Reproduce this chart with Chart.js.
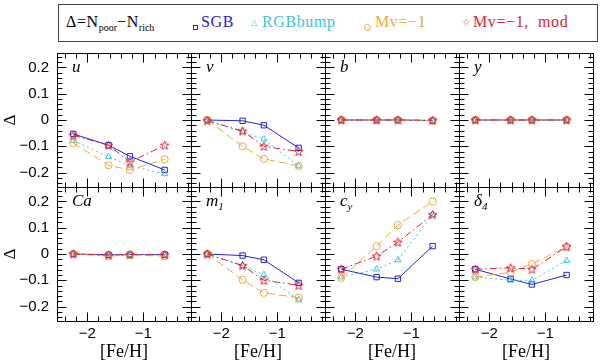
<!DOCTYPE html>
<html><head><meta charset="utf-8">
<script src="https://cdn.jsdelivr.net/npm/chart.js@4/dist/chart.umd.min.js"></script>
<style>
html,body{margin:0;padding:0;background:#fff;}
#wrap{position:relative;width:600px;height:364px;overflow:hidden;background:#fff;}
canvas.pc{position:absolute;left:0;top:0;}
.lab{position:absolute;font-family:"Liberation Serif",serif;font-style:italic;font-size:17px;line-height:1;color:#000;white-space:nowrap;}
.lab sub{font-size:11px;vertical-align:-4px;line-height:0;}
#legend{position:absolute;left:58px;top:4px;width:540px;height:38px;border:1px solid #444;box-sizing:border-box;font-family:"Liberation Serif",serif;font-size:16px;}
#legend .it{position:absolute;top:9px;line-height:1;white-space:nowrap;letter-spacing:0.6px;}
#legend sub{font-size:10px;vertical-align:-4px;line-height:0;letter-spacing:0;}
.mk{position:absolute;box-sizing:border-box;}
</style></head>
<body>
<div id="wrap">
  <div id="legend">
    <div class="it" style="left:7px;color:#000">Δ=N<sub>poor</sub>−N<sub>rich</sub></div>
    <div class="mk" style="left:134px;top:20px;width:5px;height:5px;border:1px solid #2323d2"></div>
    <div class="it" style="left:142px;color:#2323d2">SGB</div>
    <div class="it" style="left:192px;top:14px;font-family:'DejaVu Sans';font-size:8px;color:#3cc3dc;letter-spacing:0">△</div>
    <div class="it" style="left:203px;color:#3cc3dc">RGBbump</div>
    <div class="mk" style="left:305px;top:19px;width:7px;height:7px;border:1px solid #f2a93a;border-radius:50%"></div>
    <div class="it" style="left:316px;color:#f2a93a">Mv=−1</div>
    <div class="it" style="left:403px;top:13px;font-family:'DejaVu Sans';font-size:9px;color:#dd2233;letter-spacing:0">☆</div>
    <div class="it" style="left:414px;color:#dd2233">Mv=−1,&nbsp;&nbsp;mod</div>
  </div>
</div>
<script>
// ---- data ----
const feh = [-2.25, -1.62, -1.24, -0.62];
const xTickLabels = [-2, -1];
const yTickLabels = [0.2, 0.1, 0, -0.1, -0.2];
const seriesNames = ['SGB', 'RGBbump', 'Mv=−1', 'Mv=−1, mod'];
const panelNames = ['u', 'v', 'b', 'y', 'Ca', 'm1', 'cy', 'δ4'];

const u_sgb = [-0.053, -0.096, -0.138, -0.190];
const u_rgb = [-0.078, -0.140, -0.175, -0.205];
const u_mv  = [-0.088, -0.172, -0.190, -0.150];
const u_mod = [-0.058, -0.096, -0.160, -0.096];

const v_sgb = [0.000, -0.003, -0.020, -0.106];
const v_rgb = [0.000, -0.045, -0.073, -0.175];
const v_mv  = [0.000, -0.100, -0.148, -0.175];
const v_mod = [-0.003, -0.042, -0.100, -0.120];

const b_sgb = [0, 0, 0, -0.002];
const b_rgb = [0, 0, 0, -0.002];
const b_mv  = [0, 0, 0, -0.003];
const b_mod = [0, 0, 0, -0.001];

const y_sgb = [0, 0, 0, 0];
const y_rgb = [0, 0, 0, 0];
const y_mv  = [0, 0, 0, 0];
const y_mod = [0, 0, 0, 0];

const ca_sgb = [0, -0.003, -0.002, -0.002];
const ca_rgb = [0, -0.004, -0.002, -0.004];
const ca_mv  = [0, -0.008, -0.004, -0.008];
const ca_mod = [0, -0.004, -0.002, -0.003];

const m1_sgb = [0, -0.006, -0.022, -0.110];
const m1_rgb = [0, -0.045, -0.079, -0.175];
const m1_mv  = [0, -0.098, -0.148, -0.166];
const m1_mod = [0, -0.044, -0.100, -0.119];

const cy_sgb = [-0.058, -0.088, -0.094, 0.030];
const cy_rgb = [-0.088, -0.058, -0.023, 0.150];
const cy_mv  = [-0.091, 0.030, 0.110, 0.200];
const cy_mod = [-0.058, -0.008, 0.045, 0.150];

const d4_sgb = [-0.058, -0.095, -0.116, -0.080];
const d4_rgb = [-0.088, -0.100, -0.100, -0.025];
const d4_mv  = [-0.088, -0.070, -0.038, 0.028];
const d4_mod = [-0.058, -0.053, -0.058, 0.028];

const panelData = [
  [u_sgb, u_rgb, u_mv, u_mod],
  [v_sgb, v_rgb, v_mv, v_mod],
  [b_sgb, b_rgb, b_mv, b_mod],
  [y_sgb, y_rgb, y_mv, y_mod],
  [ca_sgb, ca_rgb, ca_mv, ca_mod],
  [m1_sgb, m1_rgb, m1_mv, m1_mod],
  [cy_sgb, cy_rgb, cy_mv, cy_mod],
  [d4_sgb, d4_rgb, d4_mv, d4_mod]
];
const panelLabelHTML = ['u', 'v', 'b', 'y', 'Ca', 'm<sub>1</sub>', 'c<sub>y</sub>', 'δ<sub>4</sub>'];

// ---- style ----
const XMIN = -2.54, XMAX = -0.15, YMIN = -0.255, YMAX = 0.255;
const colors = ['#2323d2', '#3cc3dc', '#f2a93a', '#dd2233'];
const dashes = [[], [2, 3], [8, 4], [7, 3, 1.5, 3]];
const PL = 57, PW = 134, PT = 53, PH = 134;

function starImage(col) {
  const c = document.createElement('canvas');
  c.width = 11; c.height = 11;
  const g = c.getContext('2d');
  g.strokeStyle = col; g.lineWidth = 1;
  g.beginPath();
  for (let k = 0; k < 10; k++) {
    const r = k % 2 === 0 ? 4.6 : 2.0;
    const a = -Math.PI / 2 + k * Math.PI / 5;
    const px = 5.5 + r * Math.cos(a), py = 5.8 + r * Math.sin(a);
    if (k === 0) g.moveTo(px, py); else g.lineTo(px, py);
  }
  g.closePath(); g.stroke();
  return c;
}
const pointStyles = ['rect', 'triangle', 'circle', starImage(colors[3])];
const pointRadii = [3.8, 3.6, 3.6, 4.5];

const fmt = v => {
  if (Math.abs(v) < 1e-9) return '0';
  const s = String(Math.round(v * 10) / 10);
  return s.replace('-', '−');
};

const framePlugin = {
  id: 'frame',
  afterDraw(chart) {
    const {ctx, chartArea: {left, right, top, bottom}, scales: {x, y}} = chart;
    ctx.save();
    ctx.strokeStyle = '#000';
    ctx.lineWidth = 1;
    const l = Math.round(left) + 0.5, r = Math.round(right) + 0.5;
    const t = Math.round(top) + 0.5, b = Math.round(bottom) + 0.5;
    ctx.strokeRect(l, t, r - l, b - t);
    ctx.beginPath();
    for (let i = -12; i <= -1; i++) {
      const v = i * 0.2;
      const px = Math.round(x.getPixelForValue(v)) + 0.5;
      const len = (i % 5 === 0) ? 9 : 5;
      ctx.moveTo(px, t); ctx.lineTo(px, t + len);
      ctx.moveTo(px, b); ctx.lineTo(px, b - len);
    }
    for (let j = -12; j <= 12; j++) {
      const v = j * 0.02;
      const py = Math.round(y.getPixelForValue(v)) + 0.5;
      const len = (j % 5 === 0) ? 9 : 5;
      ctx.moveTo(l, py); ctx.lineTo(l + len, py);
      ctx.moveTo(r, py); ctx.lineTo(r - len, py);
    }
    ctx.stroke();
    ctx.restore();
  }
};

const wrap = document.getElementById('wrap');
panelData.forEach((sets, idx) => {
  const row = Math.floor(idx / 4), col = idx % 4;
  const L = PL + PW * col, R = L + PW, T = PT + PH * row, B = T + PH;
  const showX = row === 1, showY = col === 0;
  const cv = document.createElement('canvas');
  cv.className = 'pc'; cv.width = 600; cv.height = 364;
  wrap.appendChild(cv);

  const datasets = sets.map((vals, k) => ({
    label: seriesNames[k],
    data: feh.map((xv, i) => ({x: xv, y: vals[i]})),
    borderColor: colors[k],
    backgroundColor: 'rgba(0,0,0,0)',
    borderWidth: 1,
    borderDash: dashes[k],
    pointStyle: pointStyles[k],
    pointRadius: pointRadii[k],
    pointBorderWidth: 1,
    pointBorderColor: colors[k],
    pointBackgroundColor: 'rgba(0,0,0,0)',
    tension: 0,
    fill: false,
    order: 3 - k
  }));

  new Chart(cv, {
    type: 'line',
    data: {datasets},
    options: {
      responsive: false, animation: false, events: [],
      devicePixelRatio: 1,
      layout: {padding: {left: showY ? 0 : L, right: 600 - R, top: T, bottom: showX ? 0 : 364 - B}},
      plugins: {legend: {display: false}, tooltip: {enabled: false}},
      scales: {
        x: {
          type: 'linear', min: XMIN, max: XMAX, display: showX,
          grid: {display: false, drawTicks: false}, border: {display: false},
          afterBuildTicks: s => { s.ticks = xTickLabels.map(v => ({value: v})); },
          afterFit: s => { s.height = showX ? 364 - B : 0; },
          ticks: {padding: 4, color: '#000', font: {family: 'Liberation Sans', size: 15}, callback: v => fmt(v), maxRotation: 0, autoSkip: false},
          title: {display: true, text: '[Fe/H]', color: '#000', font: {family: 'Liberation Serif', size: 18, lineHeight: 1.2}, padding: {top: 0, bottom: 1}}
        },
        y: {
          type: 'linear', min: YMIN, max: YMAX, display: showY,
          grid: {display: false, drawTicks: false}, border: {display: false},
          afterBuildTicks: s => { s.ticks = yTickLabels.map(v => ({value: v})); },
          afterFit: s => { s.width = showY ? L : 0; },
          ticks: {padding: 8, color: '#000', font: {family: 'Liberation Sans', size: 15}, callback: v => fmt(v), autoSkip: false},
          title: {display: true, text: 'Δ', color: '#000', font: {family: 'Liberation Serif', size: 17, lineHeight: 1.2}, padding: {top: 0, bottom: 0}}
        }
      }
    },
    plugins: [framePlugin]
  });

  const lab = document.createElement('div');
  lab.className = 'lab';
  lab.innerHTML = panelLabelHTML[idx];
  lab.style.left = (L + 15) + 'px';
  lab.style.top = (T + 5) + 'px';
  wrap.appendChild(lab);
});
</script>
</body></html>
